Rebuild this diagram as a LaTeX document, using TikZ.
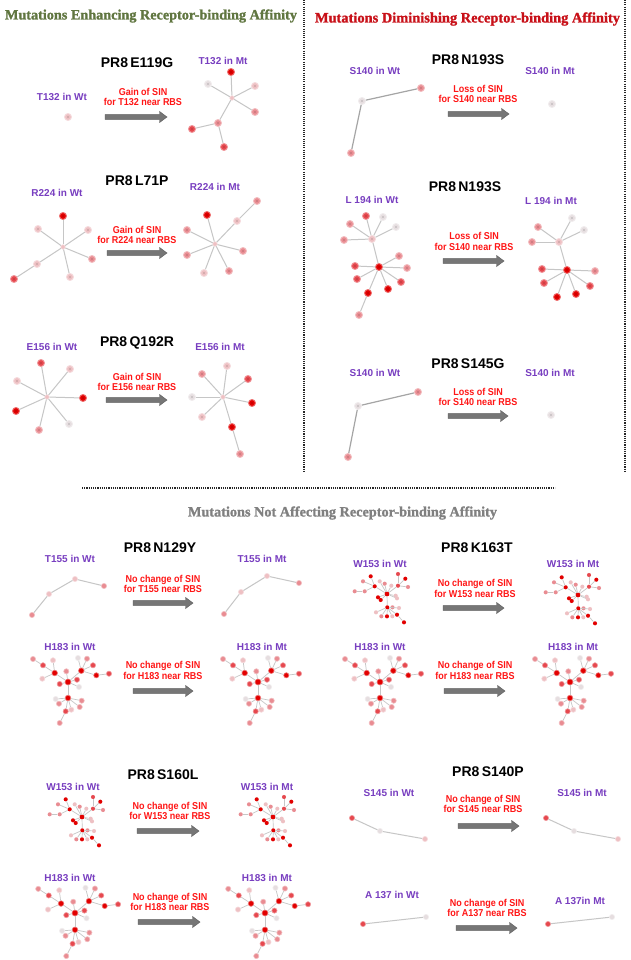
\documentclass[tikz,border=0pt]{standalone}
\usepackage{fontspec}
\usepackage{graphicx}
\newfontfamily\sansf{Liberation Sans}
\newfontfamily\narrowf[FakeStretch=0.9]{Liberation Sans}
\newfontfamily\titlef[FakeBold=1.3]{Liberation Serif}
\definecolor{c1}{RGB}{226,0,0}
\definecolor{c2}{RGB}{230,72,78}
\definecolor{c3}{RGB}{233,140,146}
\definecolor{c4}{RGB}{238,192,195}
\definecolor{c5}{RGB}{230,222,224}
\definecolor{edgegray}{RGB}{198,198,198}
\definecolor{edgedark}{RGB}{165,165,165}
\definecolor{lblpurple}{RGB}{120,62,192}
\definecolor{redtxt}{RGB}{255,22,22}
\definecolor{titlegreen}{RGB}{96,118,64}
\definecolor{titlered}{RGB}{200,16,24}
\definecolor{titlegray}{RGB}{128,128,128}
\definecolor{arrowfill}{RGB}{118,118,118}
\definecolor{arrowedge}{RGB}{90,90,90}
\tikzset{
  gn/.style={circle, inner sep=0pt, minimum size=7pt, fill=#1, draw=#1!55!white, line width=0.9pt,
    path picture={\fill[#1!55!black] (path picture bounding box.center) circle (0.55pt);}},
  hb/.style={circle, inner sep=0pt, minimum size=4.5pt, fill=#1, draw=#1!55!white, line width=0.6pt},
  sn/.style={circle, inner sep=0pt, minimum size=5.2pt, fill=#1, draw=#1!55!white, line width=0.6pt},
  tn/.style={circle, inner sep=0pt, minimum size=4.1pt, fill=#1},
  ed/.style={draw=edgegray, line width=1pt},
  edk/.style={draw=edgedark, line width=1.2pt},
  eds/.style={draw=edgegray, line width=0.7pt},
  prl/.style={inner sep=0pt, font=\sansf\bfseries\fontsize{14}{16}\selectfont, text=black},
  lbl/.style={inner sep=0pt, font=\sansf\bfseries\fontsize{10}{12}\selectfont, text=lblpurple},
  rtx/.style={inner sep=0pt, align=center, font=\narrowf\bfseries\fontsize{10}{10.5}\selectfont, text=redtxt},
  sepdots/.style={draw=black!85, line width=1.6pt, dash pattern=on 1.1pt off 1.1pt},
  pics/wgraph/.style={code={
    \node[tn=c1, minimum size=4.8pt] (-A) at (0,0) {};
    \node[tn=c1] (-L) at (-12.3,-7.7) {};
    \node[tn=c1] (-L1) at (-16.3,-17.7) {};
    \node[tn=c3] (-L2) at (-24,-12.7) {};
    \node[tn=c3] (-L3) at (-22.3,-2.7) {};
    \node[tn=c3] (-L4) at (-32.3,-2.7) {};
    \node[tn=c4] (-L5) at (-7.3,-12.7) {};
    \node[tn=c3] (-a1) at (-2.3,-10.3) {};
    \node[tn=c4] (-a2) at (4.3,-8.3) {};
    \node[tn=c2] (-R) at (11,-8.3) {};
    \node[tn=c2] (-R1) at (11,-20) {};
    \node[tn=c1] (-R2) at (18.3,-15.3) {};
    \node[tn=c3] (-R3) at (21,-7) {};
    \node[tn=c4] (-a3) at (8.7,1.7) {};
    \node[tn=c4] (-a4) at (10,4.3) {};
    \node[tn=c1] (-a5) at (-9,3.3) {};
    \node[tn=c1] (-a6) at (-6.3,6) {};
    \node[tn=c1] (-D) at (0.3,13.3) {};
    \node[tn=c4] (-d1) at (-11,18.3) {};
    \node[tn=c3] (-d2) at (-5.7,22.3) {};
    \node[tn=c1] (-d3) at (0,22.3) {};
    \node[tn=c4] (-d4) at (5.3,22.3) {};
    \node[tn=c1] (-d5) at (10,20.7) {};
    \node[tn=c1] (-d6) at (17,28.3) {};
    \node[tn=c3] (-d7) at (5.5,13.3) {};
    \node[tn=c4] (-d8) at (12,14) {};
    \foreach \a/\b in {-A/-L,-L/-L1,-L/-L2,-L/-L3,-L3/-L4,-A/-L5,-A/-a1,-A/-a2,-A/-R,-R/-R1,-R/-R2,-R/-R3,
      -A/-a3,-A/-a4,-A/-a5,-A/-a6,-A/-D,-D/-d1,-D/-d2,-D/-d3,-D/-d4,-D/-d5,-d5/-d6,-D/-d7,-D/-d8}
      \draw[eds] (\a) -- (\b);
  }},
  pics/hgraph/.style={code={
    \node[sn=c1, minimum size=6pt] (-A) at (0,0) {};
    \node[sn=c1, minimum size=5.6pt] (-B) at (-13.3,-9) {};
    \node[sn=c1, minimum size=5.6pt] (-C) at (13.3,-11.3) {};
    \node[sn=c1, minimum size=5.6pt] (-D) at (0,16) {};
    \node[sn=c2] (-b1) at (-25,-16.7) {};
    \node[sn=c3] (-b0) at (-35,-23) {};
    \node[sn=c4] (-b2) at (-15,-21.7) {};
    \node[sn=c4] (-b3) at (-25.7,-3.3) {};
    \node[sn=c3] (-a1) at (-1.7,-10.7) {};
    \node[sn=c2] (-a2) at (-8.3,2) {};
    \node[sn=c2] (-a3) at (9,-2.3) {};
    \node[sn=c5] (-a4) at (11,5) {};
    \node[sn=c5] (-c1) at (10,-24) {};
    \node[sn=c3] (-c2) at (19,-23.3) {};
    \node[sn=c2] (-c3) at (25,-16.7) {};
    \node[sn=c1] (-c4) at (28.3,-6.7) {};
    \node[sn=c2] (-c5) at (41,-8.3) {};
    \node[sn=c5] (-d1) at (-12.3,17) {};
    \node[sn=c3] (-d2) at (-9,21.7) {};
    \node[sn=c4] (-d3) at (3.3,27.7) {};
    \node[sn=c3] (-d4) at (11.7,25) {};
    \node[sn=c3] (-d5) at (13.7,18.7) {};
    \node[sn=c2] (-d6) at (-2.3,29.3) {};
    \node[sn=c3] (-d7) at (-8.3,41) {};
    \foreach \a/\b in {-A/-B,-A/-C,-A/-D,-B/-b1,-b1/-b0,-B/-b2,-B/-b3,-A/-a1,-A/-a2,-A/-a3,-A/-a4,
      -C/-c1,-C/-c2,-C/-c3,-C/-c4,-c4/-c5,-D/-d1,-D/-d2,-D/-d3,-D/-d4,-D/-d5,-D/-d6,-d6/-d7}
      \draw[eds] (\a) -- (\b);
  }}
}
\newcommand\bigarrow[3]{%
  \filldraw[fill=arrowfill, draw=arrowedge, line width=0.4pt]
    (#1,#3-2.4) -- (#2-7.5,#3-2.4) -- (#2-7.5,#3-5.6) -- (#2,#3) -- (#2-7.5,#3+5.6)
    -- (#2-7.5,#3+2.4) -- (#1,#3+2.4) -- cycle;}
\newcommand\links[2][ed]{\foreach \a/\b in {#2} \draw[#1] (\a) -- (\b);}
\begin{document}
\begin{tikzpicture}[x=1pt,y=-1pt]
\fill[white] (0,0) rectangle (630,960);
\useasboundingbox (0,0) rectangle (630,960);

% separators
\draw[sepdots] (304,0) -- (304,472);
\draw[sepdots] (625,0) -- (625,472);
\draw[sepdots] (82,488) -- (555,488);

% titles
\node[inner sep=0pt] (t1) at (151,16) {\resizebox{292pt}{!}{\titlef\bfseries\color{titlegreen}Mutations Enhancing Receptor-binding Affinity}};
\node[inner sep=0pt] (t2) at (467.5,19) {\resizebox{305pt}{!}{\titlef\bfseries\color{titlered}Mutations Diminishing Receptor-binding Affinity}};
\node[inner sep=0pt] (t3) at (342.5,513) {\resizebox{309pt}{!}{\titlef\bfseries\color{titlegray}Mutations Not Affecting Receptor-binding Affinity}};

% ===== PR8 E119G =====
\node[prl] (p1) at (137,63) {PR8\,E119G};
\node[lbl] (l1a) at (62,97) {T132 in Wt};
\node[lbl] (l1b) at (223,61) {T132 in Mt};
\node[rtx] (r1) at (143,97) {Gain of SIN\\for T132 near RBS};
\bigarrow{105}{167}{117}
\node[gn=c4] (g1a) at (68,117) {};
\node[hb=c4] (g1bh) at (232,98) {};
\node[gn=c1] (g1b1) at (231,72) {};
\node[gn=c5] (g1b2) at (208,84) {};
\node[gn=c4] (g1b3) at (255,86) {};
\node[gn=c3] (g1b4) at (255,112) {};
\node[gn=c3] (g1b5) at (218,123) {};
\node[gn=c2] (g1b6) at (192,129) {};
\node[gn=c2] (g1b7) at (224,147) {};
\links{g1bh/g1b1,g1bh/g1b2,g1bh/g1b3,g1bh/g1b4,g1bh/g1b5,g1b5/g1b6,g1b5/g1b7}

% ===== PR8 L71P =====
\node[prl] (p2) at (137,181) {PR8\,L71P};
\node[lbl] (l2a) at (57,193) {R224 in Wt};
\node[lbl] (l2b) at (215,187) {R224 in Mt};
\node[rtx] (r2) at (137,235) {Gain of SIN\\for R224 near RBS};
\bigarrow{107}{167}{253}
\node[hb=c4] (g2ah) at (63,247) {};
\node[gn=c1] (g2a1) at (63,216) {};
\node[gn=c4] (g2a2) at (38,229) {};
\node[gn=c4] (g2a3) at (88,230) {};
\node[gn=c3] (g2a4) at (92,259) {};
\node[gn=c4] (g2a5) at (70,277) {};
\node[gn=c4] (g2a6) at (37,264) {};
\node[gn=c2] (g2a7) at (14,279) {};
\links{g2ah/g2a1,g2ah/g2a2,g2ah/g2a3,g2ah/g2a4,g2ah/g2a5,g2ah/g2a6,g2a6/g2a7}
\node[hb=c4] (g2bh) at (215,244) {};
\node[gn=c1] (g2b1) at (207,215) {};
\node[gn=c3] (g2b2) at (187,230) {};
\node[gn=c3] (g2b3) at (187,255) {};
\node[gn=c4] (g2b4) at (204,273) {};
\node[gn=c3] (g2b5) at (229,271) {};
\node[gn=c3] (g2b6) at (243,251) {};
\node[gn=c4] (g2b7) at (237,221) {};
\node[gn=c3] (g2b8) at (257,201) {};
\links{g2bh/g2b1,g2bh/g2b2,g2bh/g2b3,g2bh/g2b4,g2bh/g2b5,g2bh/g2b6,g2bh/g2b7,g2b7/g2b8}

% ===== PR8 Q192R =====
\node[prl] (p3) at (137,343) {PR8\,Q192R};
\node[lbl] (l3a) at (52,347) {E156 in Wt};
\node[lbl] (l3b) at (220,347) {E156 in Mt};
\node[rtx] (r3) at (137,382) {Gain of SIN\\for E156 near RBS};
\bigarrow{106}{167}{400}
\node[hb=c4] (g3ah) at (47,397) {};
\node[gn=c2] (g3a1) at (41,363) {};
\node[gn=c4] (g3a2) at (70,369) {};
\node[gn=c4] (g3a3) at (17,381) {};
\node[gn=c1] (g3a4) at (83,398) {};
\node[gn=c1] (g3a5) at (16,411) {};
\node[gn=c3] (g3a6) at (39,430) {};
\node[gn=c5] (g3a7) at (69,424) {};
\links{g3ah/g3a1,g3ah/g3a2,g3ah/g3a3,g3ah/g3a4,g3ah/g3a5,g3ah/g3a6,g3ah/g3a7}
\node[hb=c4] (g3bh) at (223,397) {};
\node[gn=c4] (g3b1) at (227,366) {};
\node[gn=c3] (g3b2) at (202,374) {};
\node[gn=c2] (g3b3) at (248,379) {};
\node[gn=c5] (g3b4) at (192,397) {};
\node[gn=c1] (g3b5) at (252,403) {};
\node[gn=c4] (g3b6) at (202,417) {};
\node[gn=c1] (g3b7) at (232,427) {};
\node[gn=c3] (g3b8) at (240,454) {};
\links{g3bh/g3b1,g3bh/g3b2,g3bh/g3b3,g3bh/g3b4,g3bh/g3b5,g3bh/g3b6,g3bh/g3b7,g3b7/g3b8}

% ===== PR8 N193S (S140) =====
\node[prl] (p4) at (468,60) {PR8\,N193S};
\node[lbl] (l4a) at (375,71) {S140 in Wt};
\node[lbl] (l4b) at (550,71) {S140 in Mt};
\node[rtx] (r4) at (478,94) {Loss of SIN\\for S140 near RBS};
\bigarrow{448}{509}{114}
\node[gn=c3] (g4a1) at (421,88) {};
\node[gn=c5] (g4a2) at (362,101) {};
\node[gn=c3] (g4a3) at (351,153) {};
\links[edk]{g4a1/g4a2,g4a2/g4a3}
\node[gn=c5] (g4b1) at (552,104) {};

% ===== PR8 N193S (L194) =====
\node[prl] (p5) at (465,187) {PR8\,N193S};
\node[lbl] (l5a) at (372,200) {L 194 in Wt};
\node[lbl] (l5b) at (551,201) {L 194 in Mt};
\node[rtx] (r5) at (474,241.5) {Loss of SIN\\for S140 near RBS};
\bigarrow{443}{504}{261}
\node[gn=c4] (g5au) at (372,239) {};
\node[gn=c2] (g5a1) at (366,216) {};
\node[gn=c5] (g5a2) at (383,217) {};
\node[gn=c3] (g5a3) at (350,224) {};
\node[gn=c5] (g5a4) at (396,227) {};
\node[gn=c3] (g5a5) at (344,240) {};
\node[gn=c1] (g5al) at (379,267) {};
\node[gn=c3] (g5a6) at (399,256) {};
\node[gn=c3] (g5a7) at (407,268) {};
\node[gn=c2] (g5a8) at (355,266) {};
\node[gn=c2] (g5a9) at (357,279) {};
\node[gn=c2] (g5a10) at (401,282) {};
\node[gn=c1] (g5a11) at (388,289) {};
\node[gn=c1] (g5a12) at (368,293) {};
\node[gn=c3] (g5a13) at (359,315) {};
\links{g5au/g5a1,g5au/g5a2,g5au/g5a3,g5au/g5a4,g5au/g5a5,g5au/g5al,g5al/g5a6,g5al/g5a7,g5al/g5a8,
  g5al/g5a9,g5al/g5a10,g5al/g5a11,g5al/g5a12,g5a12/g5a13}
\node[gn=c4] (g5bu) at (559,242) {};
\node[gn=c5] (g5b1) at (572,218) {};
\node[gn=c3] (g5b2) at (538,227) {};
\node[gn=c5] (g5b3) at (584,230) {};
\node[gn=c3] (g5b4) at (532,242) {};
\node[gn=c1] (g5bl) at (567,270) {};
\node[gn=c2] (g5b5) at (542,269) {};
\node[gn=c3] (g5b6) at (595,271) {};
\node[gn=c2] (g5b7) at (544,283) {};
\node[gn=c2] (g5b8) at (590,286) {};
\node[gn=c1] (g5b9) at (557,297) {};
\node[gn=c1] (g5b10) at (576,294) {};
\links{g5bu/g5b1,g5bu/g5b2,g5bu/g5b3,g5bu/g5b4,g5bu/g5bl,g5bl/g5b5,g5bl/g5b6,g5bl/g5b7,g5bl/g5b8,
  g5bl/g5b9,g5bl/g5b10}

% ===== PR8 S145G =====
\node[prl] (p6) at (468,364) {PR8\,S145G};
\node[lbl] (l6a) at (375,373) {S140 in Wt};
\node[lbl] (l6b) at (550,373) {S140 in Mt};
\node[rtx] (r6) at (478,397) {Loss of SIN\\for S140 near RBS};
\bigarrow{448}{508}{416}
\node[gn=c3] (g6a1) at (418,392) {};
\node[gn=c5] (g6a2) at (358,406) {};
\node[gn=c3] (g6a3) at (348,457) {};
\links[edk]{g6a1/g6a2,g6a2/g6a3}
\node[gn=c5] (g6b1) at (551,415) {};

% ===== PR8 N129Y =====
\node[prl] (p7) at (160,548) {PR8\,N129Y};
\node[lbl] (l7a) at (70,559) {T155 in Wt};
\node[lbl] (l7b) at (262,559) {T155 in Mt};
\node[rtx] (r7) at (163,584) {No change of SIN\\for T155 near RBS};
\bigarrow{133}{193}{603}
\node[sn=c3] (g7a1) at (32,615) {};
\node[sn=c4] (g7a2) at (49,594) {};
\node[sn=c4] (g7a3) at (75,579) {};
\node[sn=c3] (g7a4) at (104,586) {};
\links{g7a1/g7a2,g7a2/g7a3,g7a3/g7a4}
\node[sn=c3] (g7b1) at (224,614) {};
\node[sn=c4] (g7b2) at (241,592) {};
\node[sn=c4] (g7b3) at (267,576) {};
\node[sn=c3] (g7b4) at (299,583) {};
\links{g7b1/g7b2,g7b2/g7b3,g7b3/g7b4}

\node[lbl] (l8a) at (70,647) {H183 in Wt};
\node[lbl] (l8b) at (262,647) {H183 in Mt};
\node[rtx] (r8) at (163,670.5) {No change of SIN\\for H183 near RBS};
\bigarrow{133}{193}{691}
\pic (h1) at (68,682) {hgraph};
\pic (h2) at (258,682) {hgraph};

% ===== PR8 K163T =====
\node[prl] (p9) at (477,548) {PR8\,K163T};
\node[lbl] (l9a) at (380,564) {W153 in Wt};
\node[lbl] (l9b) at (573,564) {W153 in Mt};
\node[rtx] (r9) at (475,588.5) {No change of SIN\\for W153 near RBS};
\bigarrow{443}{504}{608}
\pic (w1) at (387,594) {wgraph};
\pic (w2) at (578,595) {wgraph};

\node[lbl] (l10a) at (380,647) {H183 in Wt};
\node[lbl] (l10b) at (573,647) {H183 in Mt};
\node[rtx] (r10) at (475,670.5) {No change of SIN\\for H183 near RBS};
\bigarrow{444}{505}{691}
\pic (h3) at (380,682) {hgraph};
\pic (h4) at (570,682) {hgraph};

% ===== PR8 S160L =====
\node[prl] (p11) at (163,775) {PR8\,S160L};
\node[lbl] (l11a) at (73,787) {W153 in Wt};
\node[lbl] (l11b) at (267,787) {W153 in Mt};
\node[rtx] (r11) at (170,811) {No change of SIN\\for W153 near RBS};
\bigarrow{137}{199}{831}
\pic (w3) at (82,817) {wgraph};
\pic (w4) at (273,817) {wgraph};

\node[lbl] (l12a) at (70,878) {H183 in Wt};
\node[lbl] (l12b) at (267,878) {H183 in Mt};
\node[rtx] (r12) at (170,902) {No change of SIN\\for H183 near RBS};
\bigarrow{138}{200}{922}
\pic[scale=1.05] (h5) at (75,913) {hgraph};
\pic[scale=1.05] (h6) at (265,913) {hgraph};

% ===== PR8 S140P =====
\node[prl] (p13) at (488,772) {PR8\,S140P};
\node[lbl] (l13a) at (389,793) {S145 in Wt};
\node[lbl] (l13b) at (582,793) {S145 in Mt};
\node[rtx] (r13) at (483,804) {No change of SIN\\for S145 near RBS};
\bigarrow{458}{519}{826}
\node[sn=c2] (g13a1) at (352,818) {};
\node[sn=c5] (g13a2) at (380,831) {};
\node[sn=c4] (g13a3) at (425,839) {};
\links{g13a1/g13a2,g13a2/g13a3}
\node[sn=c2] (g13b1) at (546,818) {};
\node[sn=c5] (g13b2) at (574,831) {};
\node[sn=c4] (g13b3) at (618,839) {};
\links{g13b1/g13b2,g13b2/g13b3}

\node[lbl] (l14a) at (392,895) {A 137 in Wt};
\node[lbl] (l14b) at (580,901) {A 137in Mt};
\node[rtx] (r14) at (487,908) {No change of SIN\\for A137 near RBS};
\bigarrow{456}{517}{928}
\node[sn=c2] (g14a1) at (363,924) {};
\node[sn=c5] (g14a2) at (426,917) {};
\links{g14a1/g14a2}
\node[sn=c2] (g14b1) at (548,924) {};
\node[sn=c5] (g14b2) at (612,917) {};
\links{g14b1/g14b2}
\end{tikzpicture}
\end{document}
